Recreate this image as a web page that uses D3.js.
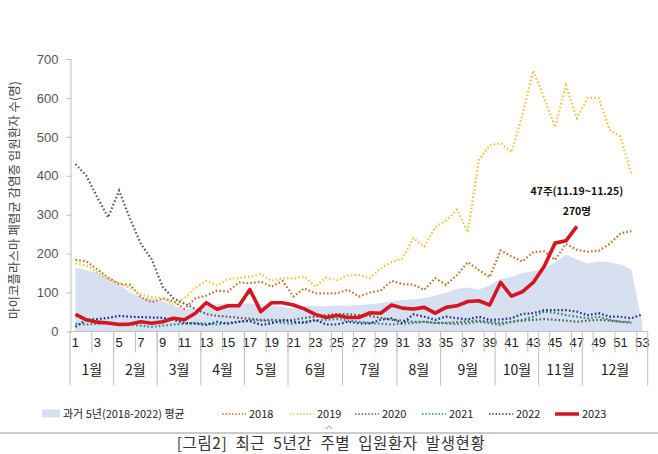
<!DOCTYPE html>
<html><head><meta charset="utf-8">
<script src="https://cdn.jsdelivr.net/npm/d3@7"></script>
<style>
html,body{margin:0;padding:0;background:#fff;}
svg{display:block;}
</style></head>
<body>
<svg id="chart" width="658" height="454"></svg>
<script>
// ---------- data ----------
const weeks = d3.range(1, 54); // 1..53
const weekLabels = d3.range(1, 54, 2); // 1,3,...,53
const months = ["1월","2월","3월","4월","5월","6월","7월","8월","9월","10월","11월","12월"];
const monthEnds = [0,4,8,12,16,20,25,30,34,39,43,47,53]; // week boundaries
const yTicks = [0,100,200,300,400,500,600,700];

const avg5 = [163,158,150,135,120,100,88,85,78,66,57,58,65,70,72,72,72,70,68,62,60,66,65,65,67,66,68,70,73,78,80,82,86,92,100,110,113,108,118,135,140,150,155,162,178,197,185,175,180,178,172,160,20];
const y2018 = [184,180,160,138,122,120,88,75,85,78,58,85,92,105,103,126,124,128,115,130,90,111,98,98,98,107,90,100,105,130,122,120,107,137,120,145,178,158,140,208,193,180,204,206,184,225,210,205,207,225,252,258];
const y2019 = [175,170,152,135,125,112,95,88,86,68,85,112,130,118,135,137,141,148,130,137,136,141,115,138,132,144,145,137,162,178,188,240,218,268,285,313,255,440,478,484,460,555,670,600,525,632,548,600,600,518,501,405];
const y2020 = [430,400,345,293,362,290,225,185,115,85,72,58,45,40,38,35,33,30,30,28,30,35,38,42,45,44,42,40,35,30,28,25,25,22,22,24,26,28,25,22,25,28,30,32,30,28,25,28,30,28,25,22];
const y2021 = [20,18,20,22,20,18,15,12,15,18,20,22,20,18,22,25,30,28,25,22,20,25,28,30,32,28,25,22,20,18,20,22,25,22,21,19,21,25,21,17,25,30,38,51,48,42,38,34,38,30,25,25];
const y2022 = [12,30,32,35,40,38,37,36,35,30,22,20,17,25,20,25,27,17,21,30,25,22,30,18,18,25,21,21,30,34,21,44,38,30,38,34,31,38,30,31,34,45,47,55,55,55,51,42,47,38,38,34,44];
const y2023 = [44,30,24,22,18,19,25,21,25,34,30,47,74,57,66,66,108,51,74,74,68,58,44,36,41,36,36,48,47,68,60,58,62,47,62,66,77,79,68,126,91,102,126,167,227,233,270];

const seriesNames = ["2018","2019","2020","2021","2022","2023"];
const seriesColors = ["#c4732e","#f3c640","#5a5a5a","#2e8c78","#1c2d85","#d3161f"];
const avgName = "과거 5년(2018-2022) 평균";
const annotation = ["47주(11.19~11.25)", "270명"];
const yTitle = "마이코플라스마 폐렴균 감염증 입원환자 수(명)";
const caption = "[그림2]  최근  5년간  주별  입원환자  발생현황";

// ---------- layout ----------
const svg = d3.select("#chart");
const L = 70, R = 647.7, T = 59, B = 331.5;
const x = d3.scaleBand().domain(weeks).range([L, R]).padding(0);
const xc = w => x(w) + x.bandwidth() / 2;
const y = d3.scaleLinear().domain([0, 700]).range([B, T]);
const numFont = "'Liberation Sans', Arial, sans-serif";
const krFont = "'Noto Sans CJK KR', sans-serif";
const axisColor = "#bfbfbf";

// area
const area = d3.area().x((d, i) => xc(weeks[i])).y0(B).y1(d => y(d));
svg.append("path").datum(avg5).attr("d", area).attr("fill", "#d7e0f1");

// y axis
const yAxis = d3.axisLeft(y).tickValues(yTicks).tickSize(5).tickPadding(8);
const gy = svg.append("g").attr("transform", `translate(${L + 1.5},0)`).call(yAxis);
gy.select(".domain").attr("stroke", axisColor).attr("d", `M-0.5,${T}V${B}`);
gy.selectAll(".tick line").attr("stroke", axisColor);
gy.selectAll(".tick text").attr("font-family", numFont).attr("font-size", 13).attr("fill", "#555");

// x axis
const xAxis = d3.axisBottom(x).tickValues(weekLabels).tickSize(0).tickPadding(6);
const gx = svg.append("g").attr("transform", `translate(0,${B})`).call(xAxis);
gx.select(".domain").attr("stroke", axisColor).attr("d", `M${L},0H${R}`);
gx.selectAll(".tick text").attr("font-family", numFont).attr("font-size", 13).attr("fill", "#222");

// small ticks at every second boundary
const evenB = d3.range(2, 53, 2);
svg.append("g").selectAll("line").data(evenB).join("line")
  .attr("x1", d => x(d) + x.bandwidth()).attr("x2", d => x(d) + x.bandwidth())
  .attr("y1", B).attr("y2", B + 21).attr("stroke", axisColor);
// month separators
svg.append("g").selectAll("line").data(monthEnds).join("line")
  .attr("x1", d => d === 0 ? L : x(d) + x.bandwidth())
  .attr("x2", d => d === 0 ? L : x(d) + x.bandwidth())
  .attr("y1", B).attr("y2", B + 54).attr("stroke", axisColor);
// month labels
svg.append("g").selectAll("text").data(months).join("text")
  .attr("x", (d, i) => {
    const a = monthEnds[i] === 0 ? L : x(monthEnds[i]) + x.bandwidth();
    const b = x(monthEnds[i + 1]) + x.bandwidth();
    return (a + b) / 2;
  })
  .attr("y", B + 43).attr("text-anchor", "middle")
  .attr("font-family", krFont).attr("font-size", 14).attr("fill", "#222").text(d => d);

// y title
svg.append("text").attr("transform", "translate(19,200) rotate(-90)")
  .attr("text-anchor", "middle").attr("font-family", krFont).attr("font-size", 12.5)
  .attr("fill", "#444").text(yTitle);

// lines
const line = d3.line().x((d, i) => xc(weeks[i])).y(d => y(d));
const dotted = [y2018, y2019, y2020, y2021, y2022];
dotted.forEach((s, i) => {
  svg.append("path").datum(s).attr("d", line).attr("fill", "none")
    .attr("stroke", seriesColors[i]).attr("stroke-width", 2.2)
    .attr("stroke-dasharray", "1.6 2.2").attr("stroke-linecap", "butt");
});
svg.append("path").datum(y2023).attr("d", line).attr("fill", "none")
  .attr("stroke", seriesColors[5]).attr("stroke-width", 3.6).attr("stroke-linejoin", "round");

// annotation
const ax = xc(47);
svg.append("text").attr("x", ax).attr("y", y(270) - 31).attr("text-anchor", "middle")
  .attr("font-family", krFont).attr("font-weight", "bold").attr("font-size", 10.5).attr("fill", "#111").text(annotation[0]);
svg.append("text").attr("x", ax).attr("y", y(270) - 11).attr("text-anchor", "middle")
  .attr("font-family", krFont).attr("font-weight", "bold").attr("font-size", 10.5).attr("fill", "#111").text(annotation[1]);

// legend
const ly = 414;
const lg = svg.append("g").attr("font-family", krFont).attr("font-size", 11).attr("fill", "#222");
lg.append("rect").attr("x", 42).attr("y", ly - 4.5).attr("width", 18).attr("height", 8).attr("fill", "#d7e0f1");
lg.append("text").attr("x", 63).attr("y", ly + 4).text(avgName);
const legX = [222, 290, 355, 422, 489, 555];
seriesNames.forEach((n, i) => {
  const g = lg.append("g");
  g.append("line").attr("x1", legX[i]).attr("x2", legX[i] + 24).attr("y1", ly).attr("y2", ly)
    .attr("stroke", seriesColors[i]).attr("stroke-width", i === 5 ? 3.5 : 1.6)
    .attr("stroke-dasharray", i === 5 ? null : "1.5 1.8");
  g.append("text").attr("x", legX[i] + 27).attr("y", ly + 4).text(n);
});

// separator & caption
svg.append("line").attr("x1", 0).attr("x2", 658).attr("y1", 433).attr("y2", 433).attr("stroke", "#9a9a9a").attr("stroke-width", 1.2);
svg.append("path").attr("d", "M326,429 L329,426 L332,429").attr("fill", "none").attr("stroke", "#888").attr("stroke-width", 0.8);
svg.append("text").attr("x", 331).attr("y", 449).attr("text-anchor", "middle")
  .attr("font-family", krFont).attr("font-size", 15.5).attr("letter-spacing", 0.6).attr("fill", "#333")
  .attr("xml:space", "preserve").style("white-space", "pre").text(caption);
</script>
</body></html>
